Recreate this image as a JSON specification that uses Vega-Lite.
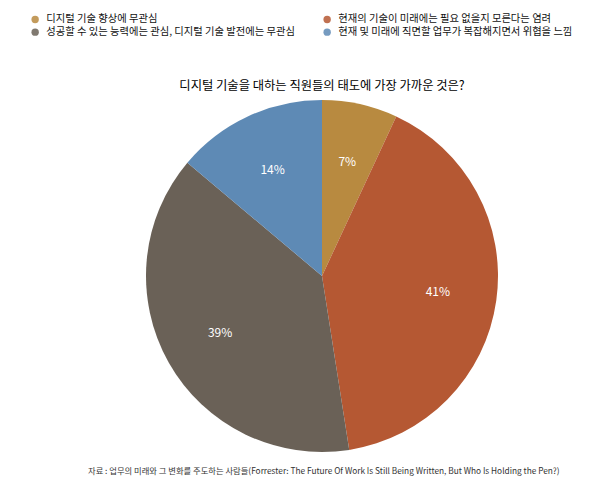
{
  "$schema": "https://vega.github.io/schema/vega-lite/v6.json",
  "background": "white",
  "padding": {"left": 30, "top": 14, "right": 0, "bottom": 0},
  "title": {
    "text": "자료 : 업무의 미래와 그 변화를 주도하는 사람들(Forrester: The Future Of Work Is Still Being Written, But Who Is Holding the Pen?)",
    "orient": "bottom",
    "anchor": "start",
    "dx": 58,
    "offset": 15,
    "fontSize": 8.3,
    "fontWeight": "normal",
    "font": "Noto Sans CJK KR",
    "color": "#333333"
  },
  "vconcat": [
    {
      "width": 352,
      "height": 352,
      "title": {
        "text": "디지털 기술을 대하는 직원들의 태도에 가장 가까운 것은?",
        "fontSize": 12.3,
        "fontWeight": "normal",
        "font": "Noto Sans CJK KR",
        "color": "#000000",
        "offset": 8
      },
      "data": {
        "values": [
          {"category": "디지털 기술 향상에 무관심", "value": 7, "label": "7%", "idx": 1},
          {"category": "현재의 기술이 미래에는 필요 없을지 모른다는 염려", "value": 41, "label": "41%", "idx": 2},
          {"category": "성공할 수 있는 능력에는 관심, 디지털 기술 발전에는 무관심", "value": 39, "label": "39%", "idx": 3},
          {"category": "현재 및 미래에 직면할 업무가 복잡해지면서 위협을 느낌", "value": 14, "label": "14%", "idx": 4}
        ]
      },
      "encoding": {
        "theta": {"field": "value", "type": "quantitative", "stack": true},
        "order": {"field": "idx", "type": "quantitative"}
      },
      "layer": [
        {
          "mark": {"type": "arc", "outerRadius": 176, "stroke": null},
          "encoding": {
            "color": {
              "field": "category",
              "type": "nominal",
              "scale": {
                "domain": [
                  "디지털 기술 향상에 무관심",
                  "성공할 수 있는 능력에는 관심, 디지털 기술 발전에는 무관심",
                  "현재의 기술이 미래에는 필요 없을지 모른다는 염려",
                  "현재 및 미래에 직면할 업무가 복잡해지면서 위협을 느낌"
                ],
                "range": ["#B88A40", "#6A6157", "#B55833", "#5E8AB5"]
              },
              "legend": {
                "orient": "none",
                "legendX": -116,
                "legendY": -86,
                "columns": 2,
                "title": null,
                "symbolType": "circle",
                "symbolSize": 55,
                "symbolStrokeWidth": 0,
                "symbolOpacity": 0.85,
                "labelFont": "Noto Sans CJK KR",
                "labelFontSize": 10.3,
                "labelOffset": 6,
                "labelColor": "#111111",
                "labelLimit": 400,
                "rowPadding": 2,
                "columnPadding": 27
              }
            }
          }
        },
        {
          "mark": {"type": "text", "radius": 117, "font": "Noto Sans CJK KR", "fontSize": 12, "color": "white"},
          "encoding": {
            "text": {"field": "label", "type": "nominal"}
          }
        }
      ]
    }
  ]
}
